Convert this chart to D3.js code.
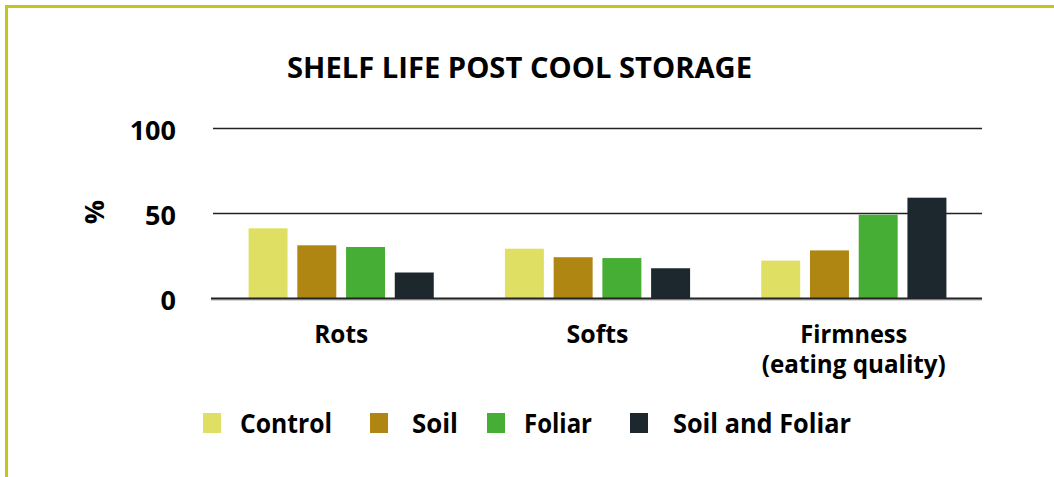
<!DOCTYPE html>
<html>
<head>
<meta charset="utf-8">
<script src="https://cdn.jsdelivr.net/npm/d3@7"></script>
<style>
  html, body { margin: 0; padding: 0; background: #fff; }
  svg { display: block; font-family: "Open Sans", "DejaVu Sans", sans-serif; font-weight: 700; }
</style>
</head>
<body>
<svg id="chart" width="1054" height="477"></svg>
<script>
const title = "SHELF LIFE POST COOL STORAGE";
const categories = ["Rots", "Softs", "Firmness"];
const categoryLines = [["Rots"], ["Softs"], ["Firmness", "(eating quality)"]];
const seriesNames = ["Control", "Soil", "Foliar", "Soil and Foliar"];
const control = [41, 29, 22];
const soil = [31, 24, 28];
const foliar = [30, 23.5, 49];
const soilAndFoliar = [15, 17.5, 59];
const yTicks = [0, 50, 100];
const yLabel = "%";

const seriesValues = [control, soil, foliar, soilAndFoliar];
const colors = ["#dfe063", "#b08613", "#47ae35", "#1c282e"];

const svg = d3.select("#chart");

// frame
svg.append("line").attr("x1", 6.5).attr("x2", 1054).attr("y1", 6.5).attr("y2", 6.5)
  .attr("stroke", "#c6c617").attr("stroke-width", 3);
svg.append("line").attr("x1", 6.5).attr("x2", 6.5).attr("y1", 5).attr("y2", 477)
  .attr("stroke", "#c6c617").attr("stroke-width", 3);

const y = d3.scaleLinear().domain([0, 100]).range([298, 128]);
const x0 = d3.scaleBand().domain(categories).range([213, 982]).padding(0);
const x1 = d3.scaleBand().domain(seriesNames).range([0, x0.bandwidth()])
  .paddingInner(0.2).paddingOuter(0.73);

// title
svg.append("text").attr("x", 519.5).attr("y", 78).attr("text-anchor", "middle")
  .attr("font-size", 29).attr("fill", "#000")
  .attr("textLength", 465).attr("lengthAdjust", "spacingAndGlyphs")
  .text(title);

// grid lines
const grid = svg.append("g");
grid.selectAll("line.grid").data(yTicks.filter(d => d > 0)).join("line")
  .attr("class", "grid")
  .attr("x1", 213).attr("x2", 982)
  .attr("y1", d => Math.round(y(d)) + 0.5).attr("y2", d => Math.round(y(d)) + 0.5)
  .attr("stroke", "#222").attr("stroke-width", 1.3);

// bars
const groups = svg.append("g").selectAll("g").data(categories).join("g")
  .attr("transform", d => `translate(${x0(d)},0)`);
groups.selectAll("rect").data((d, i) => seriesNames.map((s, j) => ({ s, j, v: seriesValues[j][i] })))
  .join("rect")
  .attr("x", d => x1(d.s))
  .attr("width", x1.bandwidth())
  .attr("y", d => y(d.v))
  .attr("height", d => y(0) - y(d.v))
  .attr("fill", d => colors[d.j]);

// baseline
svg.append("line").attr("x1", 211).attr("x2", 982).attr("y1", 300).attr("y2", 300)
  .attr("stroke", "#c8c8c8").attr("stroke-width", 1.5);
svg.append("line").attr("x1", 211).attr("x2", 982).attr("y1", 298.5).attr("y2", 298.5)
  .attr("stroke", "#222").attr("stroke-width", 2);

// y tick labels
const yAxis = d3.axisLeft(y).tickValues(yTicks).tickSize(0).tickPadding(0).tickFormat(d3.format("d"));
const ya = svg.append("g").attr("transform", "translate(176,2)").call(yAxis);
ya.select(".domain").remove();
ya.selectAll("text").attr("font-size", 27).attr("font-family", "'Open Sans', sans-serif")
  .attr("font-weight", 700).attr("fill", "#000").attr("dy", "0.35em");

// y label
svg.append("text").attr("transform", "translate(104,212) rotate(-90)")
  .attr("text-anchor", "middle").attr("font-size", 27).attr("fill", "#000").text(yLabel);

// x labels (one text element per line)
const lineWidths = { "Rots": 54, "Softs": 62, "Firmness": 107, "(eating quality)": 184 };
const xLabelData = [];
categories.forEach((c, i) => categoryLines[i].forEach((t, k) => xLabelData.push({ c, t, k })));
svg.append("g").selectAll("text").data(xLabelData).join("text")
  .attr("x", d => x0(d.c) + x0.bandwidth() / 2)
  .attr("y", d => 343 + d.k * 30)
  .attr("text-anchor", "middle").attr("font-size", 25).attr("fill", "#000")
  .attr("textLength", d => lineWidths[d.t]).attr("lengthAdjust", "spacingAndGlyphs")
  .text(d => d.t);

// legend
const legendSquareX = [203, 370, 487, 630];
const legendTextX = [240, 412, 524, 673];
const legendTextW = [92, 46, 68, 178];
const lg = svg.append("g");
lg.selectAll("rect").data(seriesNames).join("rect")
  .attr("x", (d, i) => legendSquareX[i]).attr("y", 413)
  .attr("width", 18).attr("height", 20)
  .attr("fill", (d, i) => colors[i]);
lg.selectAll("text").data(seriesNames).join("text")
  .attr("x", (d, i) => legendTextX[i]).attr("y", 433)
  .attr("font-size", 26).attr("fill", "#000")
  .attr("textLength", (d, i) => legendTextW[i]).attr("lengthAdjust", "spacingAndGlyphs")
  .text(d => d);
</script>
</body>
</html>
